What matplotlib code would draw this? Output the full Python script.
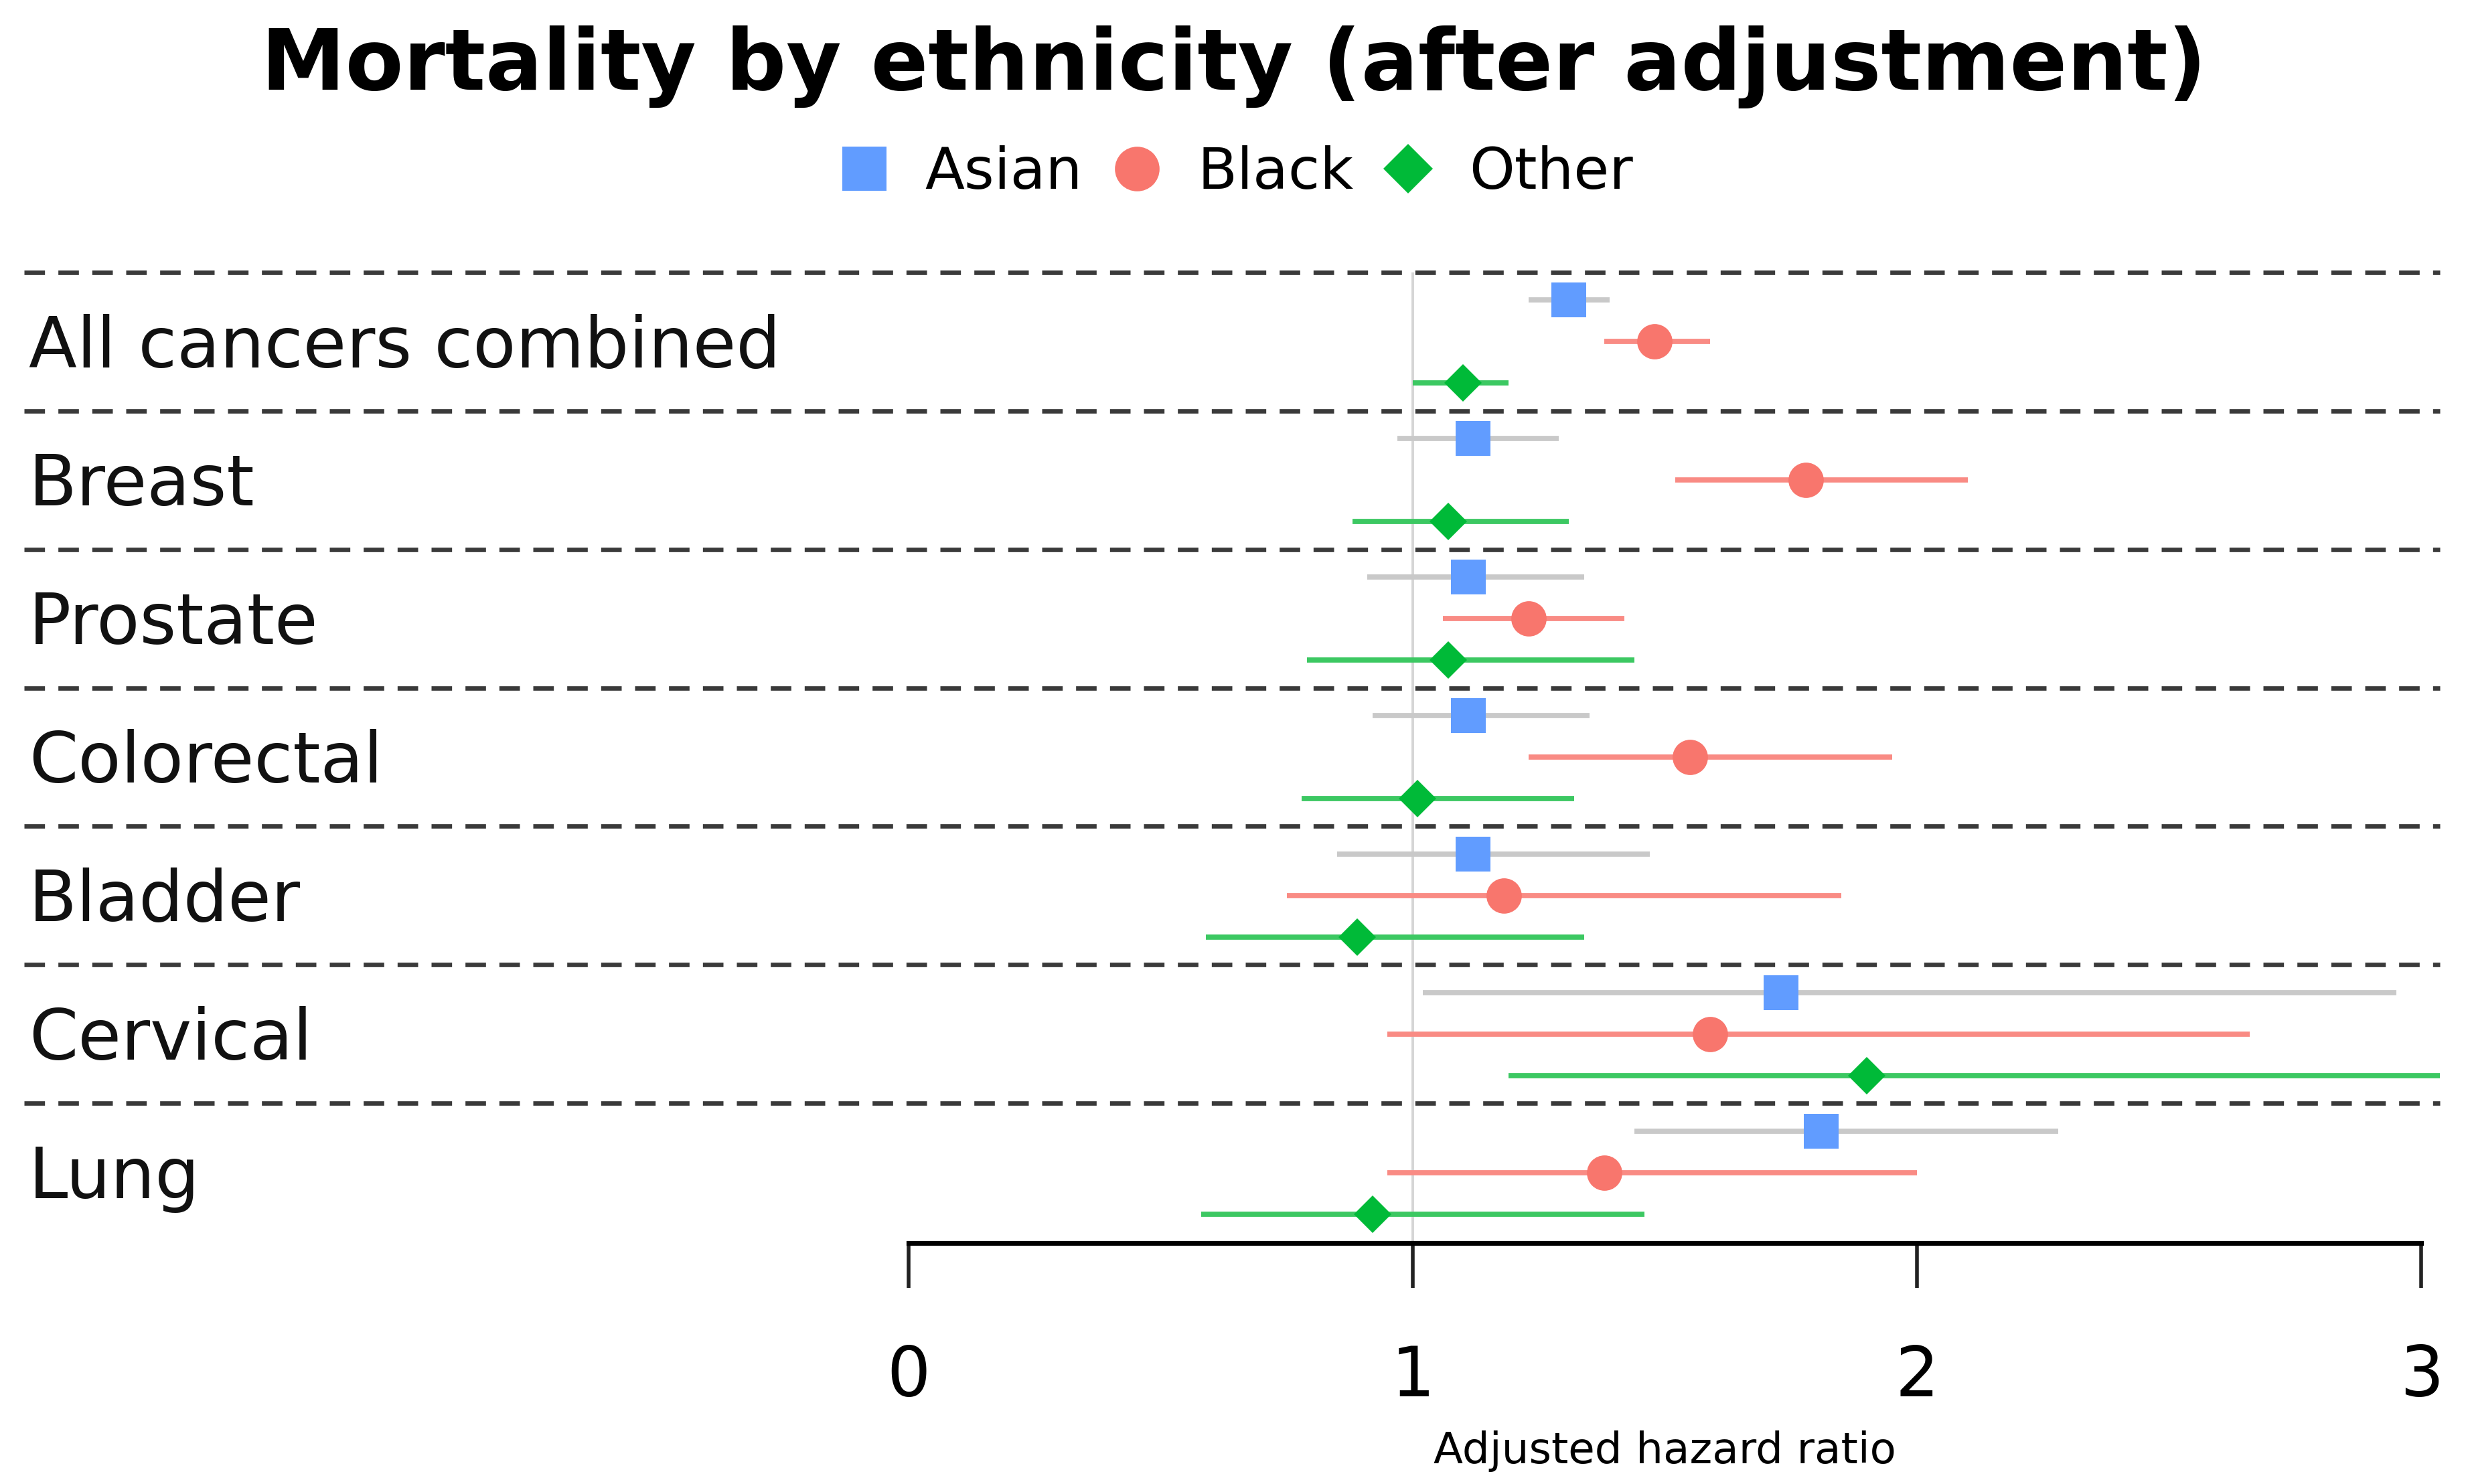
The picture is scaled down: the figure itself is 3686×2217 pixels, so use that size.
import matplotlib
matplotlib.use("Agg")
import matplotlib.pyplot as plt
from matplotlib.lines import Line2D

categories = ["All cancers combined", "Breast", "Prostate", "Colorectal",
              "Bladder", "Cervical", "Lung"]
groups = ["Asian", "Black", "Other"]

asian_hr = [1.31, 1.12, 1.11, 1.11, 1.12, 1.73, 1.81]
asian_lo = [1.23, 0.97, 0.91, 0.92, 0.85, 1.02, 1.44]
asian_hi = [1.39, 1.29, 1.34, 1.35, 1.47, 2.95, 2.28]

black_hr = [1.48, 1.78, 1.23, 1.55, 1.18, 1.59, 1.38]
black_lo = [1.38, 1.52, 1.06, 1.23, 0.75, 0.95, 0.95]
black_hi = [1.59, 2.10, 1.42, 1.95, 1.85, 2.66, 2.00]

other_hr = [1.10, 1.07, 1.07, 1.01, 0.89, 1.90, 0.92]
other_lo = [1.00, 0.88, 0.79, 0.78, 0.59, 1.19, 0.58]
other_hi = [1.19, 1.31, 1.44, 1.32, 1.34, 3.10, 1.46]

xticks = [0, 1, 2, 3]

marker_colors = ["#619CFF", "#F8766D", "#00BA38"]
ci_colors = ["#C9C9C9", "#F98B84", "#3CC862"]
markers = ["s", "o", "D"]
msizes = [19, 19, 14.5]
offsets = [-0.3, 0.0, 0.3]

W, H, DPI = 3686, 2217, 200
fig = plt.figure(figsize=(W / DPI, H / DPI), dpi=DPI)

ax = fig.add_axes([0.0098, 0.1622, 0.9787, 0.6543])
ax.set_xlim(-1.753, 3.036)
ax.set_ylim(6.511, -0.5)

series = [(asian_hr, asian_lo, asian_hi),
          (black_hr, black_lo, black_hi),
          (other_hr, other_lo, other_hi)]

# reference line at 1
ax.plot([1, 1], [-0.5, 6.511], color="#D5D5D5", lw=1.4, zorder=1)

# group separators
for g in range(len(categories)):
    ax.axhline(g - 0.5, color="#3A3A3A", lw=2.4, ls=(0, (4.6, 3.0)),
               clip_on=False, zorder=2)

for i, (hr, lo, hi) in enumerate(series):
    for g in range(len(categories)):
        y = g + offsets[i]
        ax.plot([lo[g], hi[g]], [y, y], color=ci_colors[i], lw=2.8,
                solid_capstyle="butt", zorder=3)
        ax.plot([hr[g]], [y], marker=markers[i], color=marker_colors[i],
                markersize=msizes[i], ls="none", zorder=4,
                markeredgewidth=0)

for g, cat in enumerate(categories):
    ax.text(-1.744, g + 0.045, cat, ha="left", va="center", fontsize=37.8,
            color="#111111")

for s in ["left", "right", "top"]:
    ax.spines[s].set_visible(False)
ax.spines["bottom"].set_bounds(0, 3)
ax.spines["bottom"].set_linewidth(2.6)
ax.set_yticks([])
ax.set_xticks(xticks)
ax.set_xticklabels([str(t) for t in xticks])
ax.tick_params(axis="x", length=24, width=2.0, pad=30, labelsize=37,
               color="#222222")
ax.set_xlabel("Adjusted hazard ratio", fontsize=23.2)
ax.xaxis.set_label_coords((1.5 + 1.753) / (3.036 + 1.753), -0.193)

fig.text(0.5, 0.955, "Mortality by ethnicity (after adjustment)",
         ha="center", va="center", fontsize=45.5, fontweight="bold")

handles = [Line2D([], [], marker=markers[i], color=marker_colors[i], ls="none",
                  markersize=[24, 24, 19][i], markeredgewidth=0)
           for i in range(3)]
fig.legend(handles, groups, loc="center", bbox_to_anchor=(0.5, 0.8834),
           ncol=3, frameon=False, fontsize=31, handletextpad=0.55,
           columnspacing=0.45, handlelength=1.0)

fig.savefig("out.png", dpi=DPI)
